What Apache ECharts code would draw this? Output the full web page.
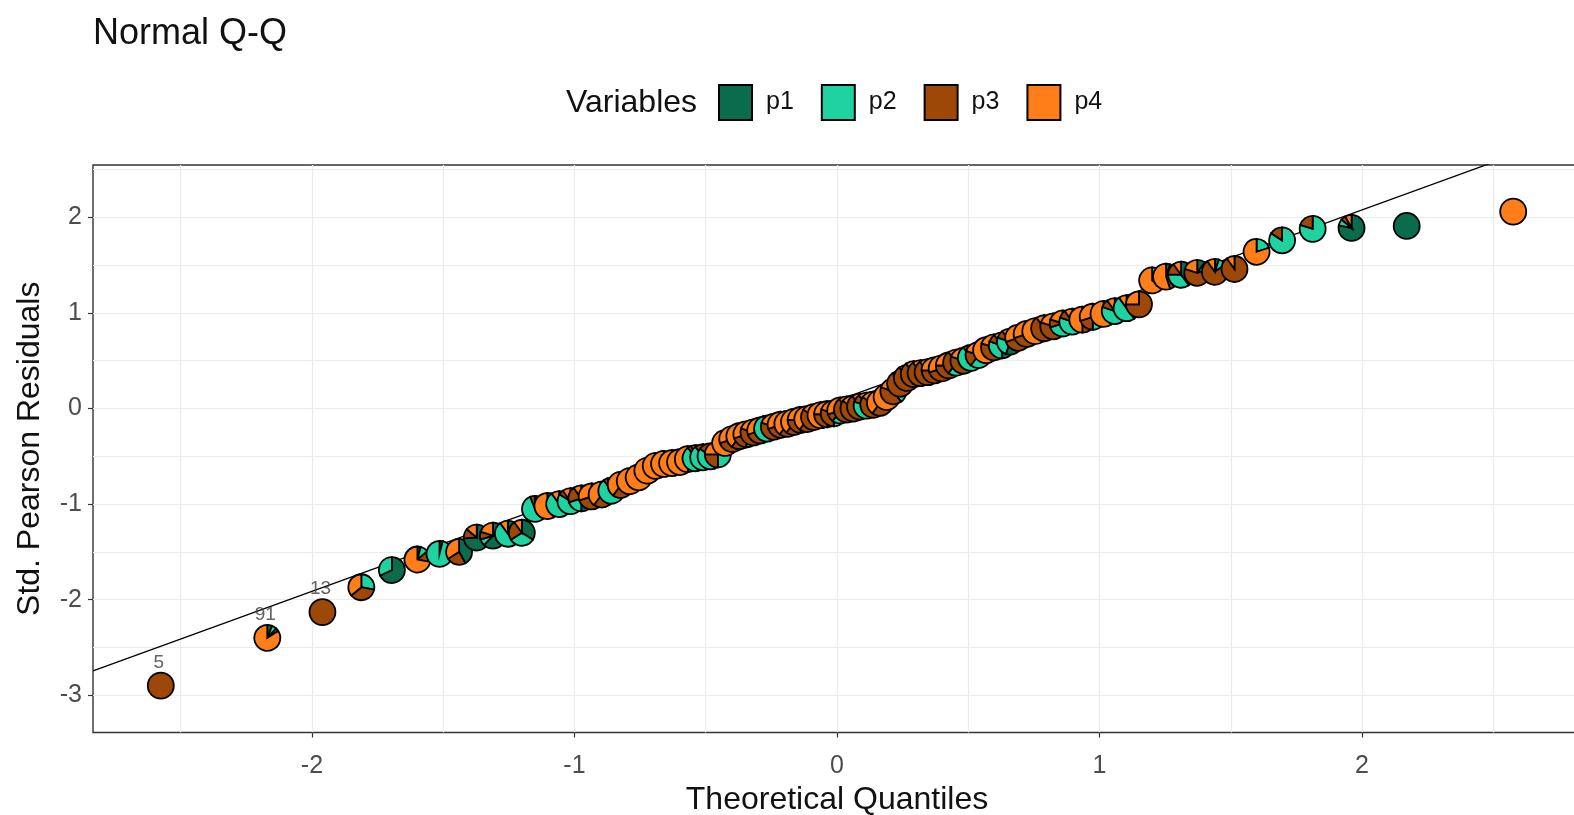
<!DOCTYPE html>
<html>
<head>
<meta charset="utf-8">
<script src="https://cdn.jsdelivr.net/npm/echarts@6/dist/echarts.min.js"></script>
<style>
  html, body { margin: 0; padding: 0; background: #ffffff; }
  #chart { width: 1574px; height: 815px; }
</style>
</head>
<body>
<div id="chart"></div>
<script>
// Theoretical normal quantiles for the 100 sorted residuals
const theoretical = [
  -2.5758, -2.1701, -1.9600, -1.8119, -1.6954, -1.5982, -1.5141, -1.4395, -1.3722, -1.3106,
  -1.2536, -1.2004, -1.1503, -1.1031, -1.0581, -1.0152, -0.9741, -0.9346, -0.8965, -0.8596,
  -0.8239, -0.7892, -0.7554, -0.7225, -0.6903, -0.6588, -0.6280, -0.5978, -0.5681, -0.5388,
  -0.5101, -0.4817, -0.4538, -0.4261, -0.3989, -0.3719, -0.3451, -0.3186, -0.2924, -0.2663,
  -0.2404, -0.2147, -0.1891, -0.1637, -0.1383, -0.1130, -0.0878, -0.0627, -0.0376, -0.0125,
   0.0125,  0.0376,  0.0627,  0.0878,  0.1130,  0.1383,  0.1637,  0.1891,  0.2147,  0.2404,
   0.2663,  0.2924,  0.3186,  0.3451,  0.3719,  0.3989,  0.4261,  0.4538,  0.4817,  0.5101,
   0.5388,  0.5681,  0.5978,  0.6280,  0.6588,  0.6903,  0.7225,  0.7554,  0.7892,  0.8239,
   0.8596,  0.8965,  0.9346,  0.9741,  1.0152,  1.0581,  1.1031,  1.1503,  1.2004,  1.2536,
   1.3106,  1.3722,  1.4395,  1.5141,  1.5982,  1.6954,  1.8119,  1.9600,  2.1701,  2.5758
];

// Sorted standardized Pearson residuals
const residuals = [
  -2.90, -2.40, -2.13, -1.87, -1.69, -1.58, -1.52, -1.50, -1.35, -1.33,
  -1.31, -1.30, -1.05, -1.02, -1.00, -0.97, -0.94, -0.92, -0.90, -0.86,
  -0.80, -0.76, -0.72, -0.65, -0.60, -0.58, -0.57, -0.56, -0.53, -0.52,
  -0.51, -0.50, -0.48, -0.36, -0.32, -0.29, -0.27, -0.25, -0.23, -0.21,
  -0.19, -0.17, -0.16, -0.14, -0.12, -0.11, -0.09, -0.07, -0.06, -0.05,
  -0.02, -0.01,  0.00,  0.02,  0.03,  0.04,  0.06,  0.12,  0.18,  0.26,
   0.32,  0.36,  0.37,  0.38,  0.40,  0.42,  0.45,  0.48,  0.50,  0.53,
   0.56,  0.61,  0.64,  0.66,  0.70,  0.74,  0.78,  0.81,  0.84,  0.86,
   0.89,  0.91,  0.93,  0.96,  0.99,  1.02,  1.05,  1.09,  1.34,  1.38,
   1.40,  1.42,  1.43,  1.46,  1.64,  1.76,  1.88,  1.89,  1.91,  2.06
];

// Share of each variable in every point's pie
const p1 = [
  0.00, 0.06, 0.00, 0.00, 0.68, 0.04, 0.04, 0.42, 0.74, 0.62,
  0.10, 0.34, 0.06, 0.00, 0.30, 0.00, 0.50, 0.30, 0.10, 0.05,
  0.20, 0.00, 0.05, 0.00, 0.05, 0.00, 0.10, 0.00, 0.35, 0.30,
  0.20, 0.45, 0.25, 0.00, 0.20, 0.10, 0.25, 0.10, 0.00, 0.05,
  0.10, 0.00, 0.10, 0.00, 0.25, 0.00, 0.05, 0.00, 0.25, 0.10,
  0.30, 0.10, 0.00, 0.10, 0.30, 0.05, 0.10, 0.00, 0.10, 0.00,
  0.00, 0.10, 0.05, 0.00, 0.05, 0.10, 0.00, 0.20, 0.10, 0.05,
  0.20, 0.00, 0.10, 0.50, 0.55, 0.10, 0.05, 0.00, 0.05, 0.10,
  0.20, 0.40, 0.10, 0.20, 0.00, 0.30, 0.40, 0.00, 0.00, 0.05,
  0.40, 0.10, 0.05, 0.00, 0.00, 0.00, 0.00, 0.78, 1.00, 0.00
];
const p2 = [
  0.00, 0.06, 0.00, 0.28, 0.32, 0.10, 0.96, 0.00, 0.00, 0.08,
  0.80, 0.32, 0.88, 0.12, 0.60, 0.84, 0.20, 0.10, 0.30, 0.85,
  0.10, 0.10, 0.05, 0.00, 0.05, 0.00, 0.00, 0.00, 0.15, 0.60,
  0.70, 0.40, 0.25, 0.00, 0.20, 0.00, 0.25, 0.10, 0.15, 0.90,
  0.20, 0.10, 0.00, 0.05, 0.25, 0.00, 0.10, 0.10, 0.25, 0.40,
  0.30, 0.10, 0.10, 0.30, 0.50, 0.15, 0.20, 0.10, 0.30, 0.10,
  0.15, 0.10, 0.05, 0.15, 0.10, 0.10, 0.00, 0.40, 0.20, 0.85,
  0.40, 0.10, 0.10, 0.30, 0.25, 0.10, 0.05, 0.00, 0.05, 0.20,
  0.50, 0.40, 0.20, 0.30, 0.10, 0.50, 0.50, 0.00, 0.25, 0.05,
  0.35, 0.10, 0.10, 0.00, 0.20, 0.84, 0.80, 0.08, 0.00, 0.00
];
const p3 = [
  1.00, 0.04, 1.00, 0.36, 0.00, 0.14, 0.00, 0.24, 0.12, 0.10,
  0.00, 0.24, 0.06, 0.30, 0.00, 0.06, 0.20, 0.30, 0.20, 0.05,
  0.30, 0.25, 0.20, 0.15, 0.10, 0.10, 0.20, 0.25, 0.00, 0.05,
  0.10, 0.15, 0.25, 0.30, 0.30, 0.50, 0.20, 0.60, 0.55, 0.05,
  0.50, 0.60, 0.50, 0.55, 0.25, 0.60, 0.70, 0.30, 0.25, 0.30,
  0.10, 0.70, 0.75, 0.50, 0.10, 0.65, 0.30, 0.20, 0.40, 0.80,
  0.75, 0.70, 0.80, 0.75, 0.60, 0.50, 0.75, 0.30, 0.50, 0.05,
  0.20, 0.10, 0.60, 0.10, 0.10, 0.50, 0.60, 0.40, 0.80, 0.50,
  0.10, 0.10, 0.20, 0.20, 0.30, 0.10, 0.00, 0.75, 0.10, 0.35,
  0.15, 0.60, 0.75, 0.90, 0.00, 0.16, 0.20, 0.06, 0.00, 0.00
];
const p4 = [
  0.00, 0.84, 0.00, 0.36, 0.00, 0.72, 0.00, 0.34, 0.14, 0.20,
  0.10, 0.10, 0.00, 0.58, 0.10, 0.10, 0.10, 0.30, 0.40, 0.05,
  0.40, 0.65, 0.70, 0.85, 0.80, 0.90, 0.70, 0.75, 0.50, 0.05,
  0.00, 0.00, 0.25, 0.70, 0.30, 0.40, 0.30, 0.20, 0.30, 0.00,
  0.20, 0.30, 0.40, 0.40, 0.25, 0.40, 0.15, 0.60, 0.25, 0.20,
  0.30, 0.10, 0.15, 0.10, 0.10, 0.15, 0.40, 0.70, 0.20, 0.10,
  0.10, 0.10, 0.10, 0.10, 0.25, 0.30, 0.25, 0.10, 0.20, 0.05,
  0.20, 0.80, 0.20, 0.10, 0.10, 0.30, 0.30, 0.60, 0.10, 0.20,
  0.20, 0.10, 0.50, 0.30, 0.60, 0.10, 0.10, 0.25, 0.65, 0.55,
  0.10, 0.20, 0.10, 0.10, 0.80, 0.00, 0.00, 0.08, 0.00, 1.00
];

// Observation ids flagged on the three lowest residuals
const flaggedIds = ['5', '91', '13'];

const variableNames = ['p1', 'p2', 'p3', 'p4'];
const variableColors = ['#0b6b4d', '#1fd3a0', '#9e4807', '#ff7e1a'];

const xTickValues = [-2, -1, 0, 1, 2];
const yTickValues = [-3, -2, -1, 0, 1, 2];
const xGridValues = [-2.5, -2, -1.5, -1, -0.5, 0, 0.5, 1, 1.5, 2, 2.5];
const yGridValues = [-3, -2.5, -2, -1.5, -1, -0.5, 0, 0.5, 1, 1.5, 2, 2.5];

// Reference line through the quartiles
const refSlope = 0.998;
const refIntercept = 0.082;

const X_MIN = -2.834, X_MAX = 2.834;
const Y_MIN = -3.39, Y_MAX = 2.548;

const FONT = '"Liberation Sans", Arial, Helvetica, sans-serif';
const PIE_R = 13;

const pieData = theoretical.map((x, i) => [x, residuals[i], p1[i], p2[i], p3[i], p4[i]]);

const chart = echarts.init(document.getElementById('chart'), null, { renderer: 'canvas' });

function renderPie(params, api) {
  const c = api.coord([api.value(0), api.value(1)]);
  const shares = [api.value(2), api.value(3), api.value(4), api.value(5)];
  const total = shares.reduce((a, b) => a + b, 0) || 1;
  const children = [];
  let start = -Math.PI / 2;
  shares.forEach((s, k) => {
    if (s <= 0) return;
    const end = start + 2 * Math.PI * s / total;
    children.push({
      type: 'sector',
      shape: { cx: c[0], cy: c[1], r: PIE_R, r0: 0, startAngle: start, endAngle: end, clockwise: true },
      style: { fill: variableColors[k], stroke: '#000000', lineWidth: 1.8 }
    });
    start = end;
  });
  const id = flaggedIds[params.dataIndex];
  if (id) {
    children.push({
      type: 'text',
      x: c[0] - 2,
      y: c[1] - 23,
      z2: 10,
      style: {
        text: id, fill: 'rgba(70,70,70,0.85)', fontSize: 19, fontFamily: FONT,
        align: 'center', verticalAlign: 'middle'
      }
    });
  }
  return { type: 'group', children: children };
}

const legendSeries = variableNames.map((name, k) => ({
  name: name,
  type: 'scatter',
  xAxisIndex: 1,
  yAxisIndex: 1,
  data: [],
  itemStyle: { color: variableColors[k], opacity: 1, borderColor: '#000000', borderWidth: 1.5 }
}));

const option = {
  animation: false,
  backgroundColor: '#ffffff',
  textStyle: { fontFamily: FONT },
  title: [
    {
      text: 'Normal Q-Q',
      left: 88,
      top: 11,
      textStyle: { fontSize: 36, fontWeight: 'normal', color: '#111111', fontFamily: FONT }
    },
    {
      text: 'Variables',
      left: 561,
      top: 82,
      textStyle: { fontSize: 32, fontWeight: 'normal', color: '#111111', fontFamily: FONT }
    }
  ],
  legend: {
    data: variableNames,
    left: 713,
    top: 79,
    icon: 'rect',
    itemWidth: 33,
    itemHeight: 35,
    itemGap: 27,
    selectedMode: false,
    itemStyle: { opacity: 1 },
    textStyle: { fontSize: 25, color: '#111111', fontFamily: FONT, padding: [0, 0, 0, 9] }
  },
  grid: {
    left: 93,
    top: 165,
    width: 1488,
    height: 567.5,
    outerBoundsMode: 'none',
    containLabel: false,
    show: true,
    borderColor: '#333333',
    borderWidth: 1.4,
    backgroundColor: 'transparent'
  },
  xAxis: [
    {
      // background grid lines at whole and half units
      type: 'value', min: X_MIN, max: X_MAX, position: 'top',
      axisLine: { show: false, onZero: false },
      axisTick: { show: false, customValues: xGridValues },
      axisLabel: { show: false },
      splitLine: { show: true, lineStyle: { color: '#ebebeb', width: 1.2 } }
    },
    {
      type: 'value', min: X_MIN, max: X_MAX, position: 'bottom',
      axisLine: { show: false, onZero: false },
      axisTick: { show: true, customValues: xTickValues, length: 5, lineStyle: { color: '#333333', width: 1.2 } },
      axisLabel: { show: true, customValues: xTickValues, fontSize: 25, color: '#4d4d4d', margin: 21, fontFamily: FONT },
      splitLine: { show: false },
      name: 'Theoretical Quantiles',
      nameLocation: 'middle',
      nameGap: 52,
      nameTextStyle: { fontSize: 32, color: '#111111', fontFamily: FONT }
    }
  ],
  yAxis: [
    {
      type: 'value', min: Y_MIN, max: Y_MAX, position: 'right',
      axisLine: { show: false, onZero: false },
      axisTick: { show: false, customValues: yGridValues },
      axisLabel: { show: false },
      splitLine: { show: true, lineStyle: { color: '#ebebeb', width: 1.2 } }
    },
    {
      type: 'value', min: Y_MIN, max: Y_MAX, position: 'left',
      axisLine: { show: false, onZero: false },
      axisTick: { show: true, customValues: yTickValues, length: 5, lineStyle: { color: '#333333', width: 1.2 } },
      axisLabel: { show: true, customValues: yTickValues, fontSize: 25, color: '#4d4d4d', margin: 11, fontFamily: FONT },
      splitLine: { show: false },
      name: 'Std. Pearson Residuals',
      nameLocation: 'middle',
      nameGap: 47,
      nameTextStyle: { fontSize: 32, color: '#111111', fontFamily: FONT }
    }
  ],
  series: [
    {
      name: 'reference',
      type: 'line',
      xAxisIndex: 1,
      yAxisIndex: 1,
      data: [
        [X_MIN, refSlope * X_MIN + refIntercept],
        [X_MAX, refSlope * X_MAX + refIntercept]
      ],
      showSymbol: false,
      silent: true,
      clip: true,
      z: 2,
      lineStyle: { color: '#000000', width: 1.3 }
    },
    {
      name: 'residual pies',
      type: 'custom',
      xAxisIndex: 1,
      yAxisIndex: 1,
      dimensions: ['x', 'y', 'p1', 'p2', 'p3', 'p4'],
      encode: { x: 0, y: 1 },
      data: pieData,
      renderItem: renderPie,
      silent: true,
      z: 3
    }
  ].concat(legendSeries)
};

chart.setOption(option);
</script>
</body>
</html>
